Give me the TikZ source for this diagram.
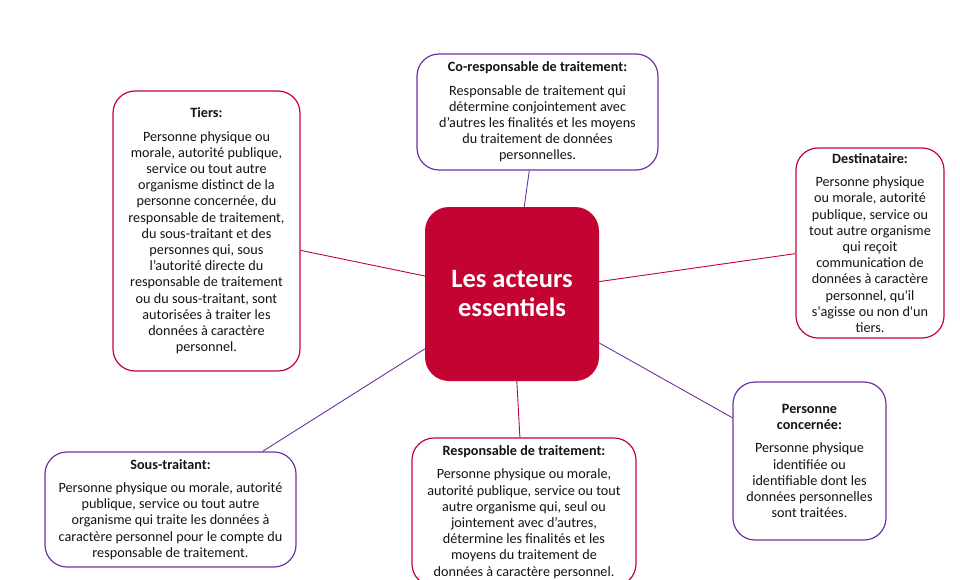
\documentclass[tikz,border=0pt]{standalone}
\usepackage{fontspec}
\setmainfont{Carlito}[Ligatures=TeXOff]
\usetikzlibrary{positioning}
\definecolor{rouge}{RGB}{195,4,50}
\definecolor{violet}{RGB}{112,48,160}
\definecolor{texte}{RGB}{20,20,20}
\def\titre#1{\textbf{#1}\\[7pt]}

\begin{document}
\begin{tikzpicture}[x=1pt, y=-1pt,
		boite/.style={draw, line width=1.2pt, rounded corners=22pt, fill=white, align=center,
			inner sep=4pt, text=texte, font=\fontsize{14.2}{16.2}\selectfont},
		boiterouge/.style={boite, draw=rouge},
		boiteviolet/.style={boite, draw=violet},
		lienrouge/.style={draw=rouge, line width=0.9pt},
		lienviolet/.style={draw=violet, line width=0.9pt}]
		%%%%% START %%%%%
		
		\useasboundingbox (0, 0) rectangle (960, 580);
		
		\node[fill=rouge, rounded corners=24pt, minimum width=174pt, minimum height=174pt,
			text=white, align=center, font=\fontsize{26.5}{29}\selectfont\bfseries] (centre) at (512, 294)
			{Les acteurs\\essentiels};
		
		\node[boiterouge, minimum width=187pt, minimum height=280pt] (tiers) at (206.5, 231)
			{\titre{Tiers:}Personne physique ou\\morale, autorité publique,\\service ou tout autre\\organisme distinct de la\\personne concernée, du\\responsable de traitement,\\du sous-traitant et des\\personnes qui, sous\\l’autorité directe du\\responsable de traitement\\ou du sous-traitant, sont\\autorisées à traiter les\\données à caractère\\personnel.};
		
		\node[boiteviolet, minimum width=241pt, minimum height=116pt] (coresp) at (537.5, 112)
			{\titre{Co-responsable de traitement:}Responsable de traitement qui\\détermine conjointement avec\\d’autres les finalités et les moyens\\du traitement de données\\personnelles.};
		
		\node[boiterouge, minimum width=148pt, minimum height=190pt] (dest) at (870, 243)
			{\titre{Destinataire:}Personne physique\\ou morale, autorité\\publique, service ou\\tout autre organisme\\qui reçoit\\communication de\\données à caractère\\personnel, qu'il\\s'agisse ou non d'un\\tiers.};
		
		\node[boiteviolet, minimum width=153pt, minimum height=158pt] (pconc) at (809.5, 461)
			{\textbf{Personne}\\\titre{concernée:}Personne physique\\identifiée ou\\identifiable dont les\\données personnelles\\sont traitées.};
		
		\node[boiterouge, minimum width=224pt, minimum height=148pt] (resp) at (524, 512)
			{\titre{Responsable de traitement:}Personne physique ou morale,\\autorité publique, service ou tout\\autre organisme qui, seul ou\\jointement avec d’autres,\\détermine les finalités et les\\moyens du traitement de\\données à caractère personnel.};
		
		\node[boiteviolet, minimum width=251pt, minimum height=115pt] (sous) at (170.5, 509.5)
			{\titre{Sous-traitant:}Personne physique ou morale, autorité\\publique, service ou tout autre\\organisme qui traite les données à\\caractère personnel pour le compte du\\responsable de traitement.};
		
		% liens
		\draw[lienrouge] (centre) -- (tiers);
		\draw[lienviolet] (centre) -- (coresp);
		\draw[lienrouge] (centre) -- (dest);
		\draw[lienviolet] (centre) -- (pconc);
		\draw[lienrouge] (centre) -- (resp);
		\draw[lienviolet] (centre) -- (sous);
		
		%%%%% END %%%%%
	\end{tikzpicture}
\end{document}
